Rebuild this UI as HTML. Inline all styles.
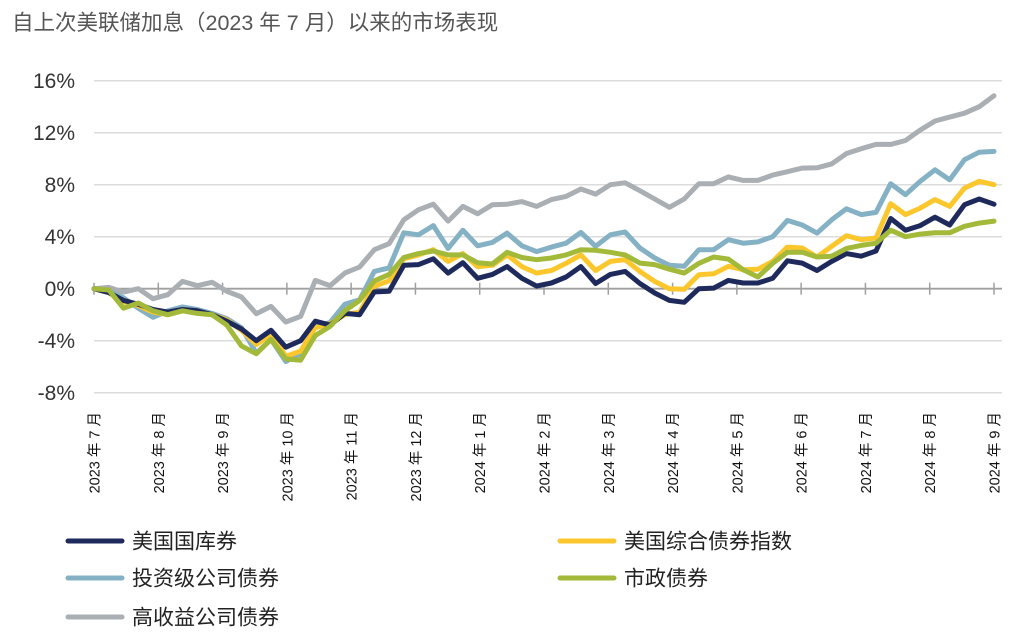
<!DOCTYPE html>
<html><head><meta charset="utf-8"><style>
html,body{margin:0;padding:0;background:#fff;width:1023px;height:644px;overflow:hidden}
svg{display:block;font-family:"Liberation Sans","Noto Sans CJK SC",sans-serif}
</style></head><body>
<svg id="chart" width="1023" height="644" viewBox="0 0 1023 644">
<text x="12" y="30" font-size="21.5" fill="#555">自上次美联储加息（2023 年 7 月）以来的市场表现</text>
<g id="grid"></g>
<g id="yaxis"></g>
<g id="xaxis"></g>
<g id="series"></g>
<g id="legend"></g>
</svg>
<script>
const months = ["2023 年 7 月","2023 年 8 月","2023 年 9 月","2023 年 10 月","2023 年 11 月","2023 年 12 月","2024 年 1 月","2024 年 2 月","2024 年 3 月","2024 年 4 月","2024 年 5 月","2024 年 6 月","2024 年 7 月","2024 年 8 月","2024 年 9 月"];
const yTicks = [16,12,8,4,0,-4,-8];
const yTickLabels = ["16%","12%","8%","4%","0%","-4%","-8%"];
const seriesNames = ["美国国库券","美国综合债券指数","投资级公司债券","市政债券","高收益公司债券"];
const treasury = [0,-0.3,-0.9,-1.2,-1.6,-1.8,-1.6,-1.7,-2.0,-2.5,-3.1,-4.0,-3.2,-4.5,-4.0,-2.5,-2.8,-1.9,-2.0,-0.25,-0.2,1.8,1.85,2.3,1.2,2.0,0.8,1.1,1.7,0.8,0.2,0.44,0.9,1.7,0.4,1.1,1.33,0.4,-0.33,-0.9,-1.05,0,0.05,0.64,0.44,0.44,0.8,2.15,1.97,1.4,2.1,2.7,2.5,2.9,5.4,4.5,4.85,5.5,4.9,6.46,6.9,6.5];
const aggregate = [0,-0.3,-1.0,-1.3,-1.8,-2.0,-1.7,-1.8,-2.0,-2.4,-3.2,-4.3,-3.5,-5.2,-4.8,-3.0,-2.7,-2.0,-1.8,0.2,0.6,2.3,2.6,3.0,2.1,2.7,1.7,1.8,2.6,1.7,1.2,1.4,1.95,2.6,1.4,2.1,2.23,1.33,0.56,0,-0.05,1.08,1.15,1.72,1.46,1.5,2.1,3.2,3.13,2.44,3.26,4.08,3.77,3.9,6.54,5.7,6.2,6.85,6.33,7.74,8.26,8.0];
const invGrade = [0,-0.2,-0.7,-1.5,-2.2,-1.7,-1.4,-1.6,-1.9,-2.3,-3.0,-4.95,-3.9,-5.6,-5.0,-2.9,-2.6,-1.2,-0.85,1.33,1.6,4.3,4.15,4.85,3.1,4.5,3.3,3.56,4.28,3.3,2.85,3.2,3.5,4.33,3.26,4.15,4.36,3.13,2.36,1.8,1.72,3.0,3.0,3.77,3.5,3.6,4.0,5.25,4.9,4.28,5.3,6.15,5.7,5.87,8.08,7.23,8.26,9.15,8.38,9.92,10.5,10.56];
const muni = [0,-0.1,-1.5,-1.1,-1.7,-2.0,-1.7,-1.9,-2.0,-2.8,-4.4,-5.0,-3.9,-5.4,-5.5,-3.6,-2.9,-1.7,-0.9,0.6,1.1,2.4,2.7,2.9,2.6,2.6,2.0,1.9,2.8,2.4,2.23,2.36,2.6,3.0,2.95,2.8,2.6,1.97,1.85,1.5,1.2,1.95,2.44,2.28,1.46,0.9,1.95,2.8,2.8,2.44,2.5,3.1,3.33,3.5,4.5,4.0,4.2,4.3,4.3,4.8,5.05,5.2];
const highYield = [0,0.1,-0.26,0,-0.77,-0.46,0.56,0.23,0.49,-0.2,-0.64,-1.92,-1.36,-2.56,-2.13,0.64,0.23,1.2,1.67,3.0,3.46,5.3,6.08,6.5,5.2,6.33,5.77,6.46,6.5,6.7,6.33,6.85,7.1,7.67,7.28,8.0,8.15,7.54,6.9,6.26,6.9,8.08,8.08,8.6,8.33,8.33,8.74,9.0,9.28,9.3,9.6,10.4,10.77,11.1,11.1,11.4,12.2,12.9,13.2,13.5,14.0,14.85];

const NS="http://www.w3.org/2000/svg";
const X0=94,X1=994,Y0=288.7,PX=13;
const nPts = treasury.length;
const xIdx = i => X0 + (X1-X0)*i/(nPts-1);
const xMonth = m => X0 + (X1-X0)*m/(months.length-1);
const yv = v => Y0 - v*PX;
function mk(tag, attrs, parent){const e=document.createElementNS(NS,tag);for(const k in attrs)e.setAttribute(k,attrs[k]);parent.appendChild(e);return e;}
const grid=document.getElementById('grid'), ya=document.getElementById('yaxis'), xa=document.getElementById('xaxis'), sg=document.getElementById('series'), lg=document.getElementById('legend');

yTicks.forEach((t,k)=>{
  if(t!==0){
    const l=mk('line',{x1:X0,x2:1002,y1:yv(t),y2:yv(t),stroke:'#dcdcdc','stroke-width':1.5},grid);
    
    
  }
  const tx=mk('text',{x:75,y:yv(t)+7.5,'text-anchor':'end','font-size':21,fill:'#333'},ya);
  tx.textContent=yTickLabels[k];
  
  
});
const ax=mk('line',{x1:X0,x2:1002,y1:Y0,y2:Y0,stroke:'#a0a0a0','stroke-width':1.8},xa);


months.forEach((m,k)=>{
  const x=xMonth(k);
  const tk=mk('line',{x1:x,x2:x,y1:Y0-6,y2:Y0+6,stroke:'#a0a0a0','stroke-width':1.5},xa);
  
  
  const tx=mk('text',{x:0,y:0,'text-anchor':'end','font-size':14.5,fill:'#111',transform:`translate(${x+5.5},412) rotate(-90)`},xa);
  tx.textContent=m;
  
  
});

const colors=['#1f2a5c','#fcc62d','#85b1c4','#a2b93a','#aaafb4'];
const data=[treasury,aggregate,invGrade,muni,highYield];
const names=['treasury-line','aggregate-line','investment-grade-line','muni-line','high-yield-line'];
[4,2,1,0,3].forEach(s=>{
  const pts=data[s].map((v,i)=>xIdx(i).toFixed(1)+','+yv(v).toFixed(1)).join(' ');
  const p=mk('polyline',{points:pts,fill:'none',stroke:colors[s],'stroke-width':5,'stroke-linejoin':'round','stroke-linecap':'round'},sg);
  
  
});

const legPos=[[68,541],[560,541],[68,578],[560,578],[68,617]];
seriesNames.forEach((n,s)=>{
  const [lx,ly]=legPos[s];
  const l=mk('line',{x1:lx,x2:lx+54,y1:ly,y2:ly,stroke:colors[s],'stroke-width':5,'stroke-linecap':'round'},lg);
  
  
  const t=mk('text',{x:lx+64,y:ly+7.5,'font-size':21,fill:'#222'},lg);
  t.textContent=n;
  
  
});
</script>
</body></html>
